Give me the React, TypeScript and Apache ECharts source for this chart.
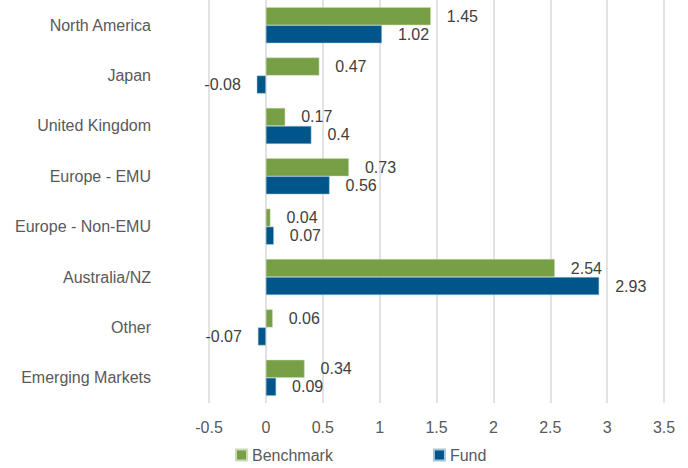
import React, { useEffect, useRef } from "react";
import * as echarts from "echarts";

const categories = [
  "North America",
  "Japan",
  "United Kingdom",
  "Europe - EMU",
  "Europe - Non-EMU",
  "Australia/NZ",
  "Other",
  "Emerging Markets",
];
const benchmark = [1.45, 0.47, 0.17, 0.73, 0.04, 2.54, 0.06, 0.34];
const fund = [1.02, -0.08, 0.4, 0.56, 0.07, 2.93, -0.07, 0.09];

const FONT = "'Liberation Sans', Arial, sans-serif";
const GREEN = "#77a046";
const BLUE = "#00558a";

function toData(values: number[]) {
  return values.map((v) => ({
    value: v,
    label: { position: v < 0 ? "left" : "right" },
  }));
}

export default function App() {
  const ref = useRef<HTMLDivElement>(null);
  useEffect(() => {
    if (!ref.current) return;
    const chart = echarts.init(ref.current, null, { renderer: "svg" });
    const label = {
      show: true,
      distance: 16,
      color: "#404040",
      fontSize: 16,
      fontFamily: FONT,
    };
    chart.setOption({
      animation: false,
      backgroundColor: "#ffffff",
      grid: { left: 209, right: 24, top: 0, bottom: 65 },
      legend: {
        data: ["Benchmark", "Fund"],
        left: 230,
        top: 442,
        itemWidth: 11,
        itemHeight: 11,
        itemGap: 100,
        icon: "rect",
        textStyle: { color: "#595959", fontSize: 16, fontFamily: FONT },
      },
      xAxis: {
        type: "value",
        min: -0.5,
        max: 3.5,
        interval: 0.5,
        axisLine: { show: false },
        axisTick: { show: false },
        splitLine: { lineStyle: { color: "#d9d9d9", width: 1.5 } },
        axisLabel: {
          color: "#595959",
          fontSize: 16,
          fontFamily: FONT,
          margin: 16,
        },
      },
      yAxis: {
        type: "category",
        data: categories,
        inverse: true,
        axisLine: { show: false, onZero: false },
        axisTick: { show: false },
        axisLabel: {
          color: "#595959",
          fontSize: 16,
          fontFamily: FONT,
          margin: 58,
        },
      },
      series: [
        {
          name: "Benchmark",
          type: "bar",
          data: toData(benchmark),
          barWidth: 18,
          barGap: "0%",
          itemStyle: { color: GREEN, borderColor: "#c9dab5", borderWidth: 0.5 },
          label,
        },
        {
          name: "Fund",
          type: "bar",
          data: toData(fund),
          barWidth: 18,
          barGap: "0%",
          itemStyle: { color: BLUE, borderColor: "#a9c4d6", borderWidth: 0.5 },
          label,
        },
      ],
    });
    return () => chart.dispose();
  }, []);
  return (
    <div
      ref={ref}
      style={{ position: "fixed", left: 0, top: 0, width: 688, height: 468 }}
    />
  );
}
